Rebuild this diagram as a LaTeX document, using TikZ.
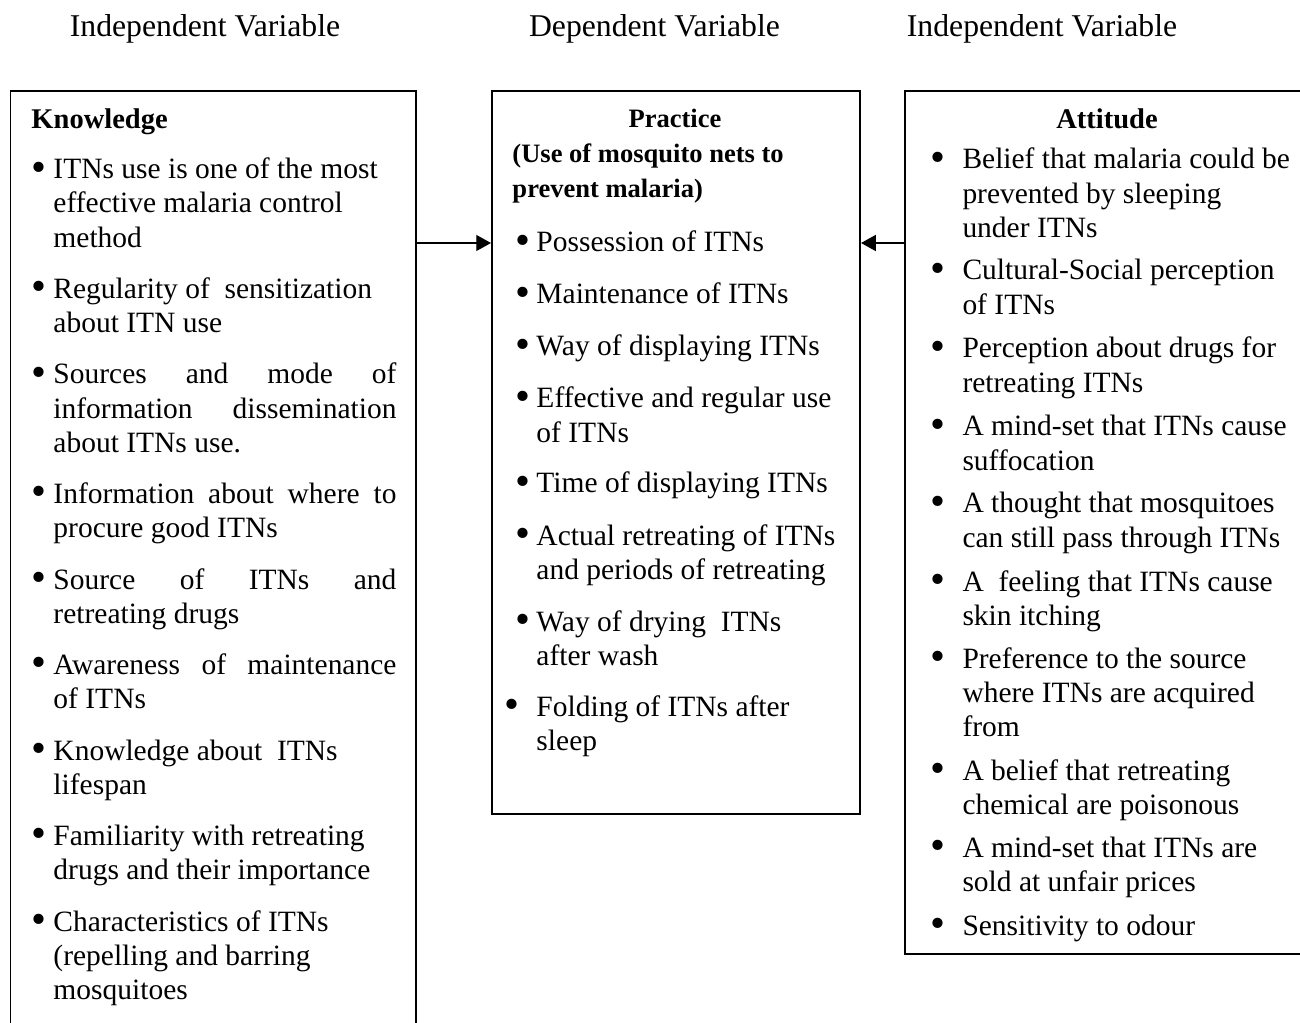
\documentclass[tikz,border=0pt]{standalone}
\usepackage{fontspec}
\setmainfont{Liberation Serif}
\usetikzlibrary{arrows.meta}
\newcommand{\jline}[1]{\leavevmode\hbox to \hsize{#1}}
\newcommand{\bul}[1]{\leavevmode\llap{\makebox[0pt]{\raisebox{-0.9pt}{\scalebox{1.45}{\textbullet}}}\hspace{#1}}}
\tikzset{
  box/.style={draw, line width=0.8pt, inner sep=0pt, anchor=north west},
  head/.style={anchor=base, inner sep=0pt, font=\fontsize{12.9}{15}\selectfont},
  title/.style={anchor=base, inner sep=0pt, font=\fontsize{11.6}{13.84}\selectfont\bfseries},
  item/.style={anchor=base west, inner sep=0pt, align=flush left, text width=#1, font=\fontsize{12}{13.84}\selectfont},
  item/.default=150pt,
  conn/.style={line width=0.55pt, -{Triangle[length=6pt,width=6.5pt]}}
}

\begin{document}
\begin{tikzpicture}[x=0.407pt,y=0.407pt,yscale=-1,xscale=1]
\clip (0,0) rectangle (1300,1023);

% Header Node
\draw (205,37) node (hdleft) [head] {Independent Variable};
% Header Node
\draw (654.5,37) node (hdmid) [head] {Dependent Variable};
% Header Node
\draw (1042,37) node (hdright) [head] {Independent Variable};

% Box Node
\draw (9.5,90.5) node (know) [box, minimum width=165.2pt, minimum height=392pt] {};
% Box Node
\draw (491,90.5) node (prac) [box, minimum width=149.8pt, minimum height=294.1pt] {};
% Box Node
\draw (904,90.5) node (att) [box, minimum width=168pt, minimum height=351.2pt] {};

% Text Node
\draw (31,129) node (knowtitle) [title, anchor=base west] {Knowledge};
% Text Node
\draw (53,179) node (know1) [item=139.6pt] {\bul{6.1pt}ITNs use is one of the most\\effective malaria control\\method};
% Text Node
\draw (53,298.5) node (know2) [item=139.6pt] {\bul{6.1pt}Regularity of \ sensitization\\about ITN use};
% Text Node
\draw (53,384) node (know3) [item=139.6pt] {\bul{6.1pt}\jline{Sources\hfill and\hfill mode\hfill of}\\\jline{information\hfill dissemination}\\about ITNs use.};
% Text Node
\draw (53,503.5) node (know4) [item=139.6pt] {\bul{6.1pt}\jline{Information\hfill about\hfill where\hfill to}\\procure good ITNs};
% Text Node
\draw (53,589) node (know5) [item=139.6pt] {\bul{6.1pt}\jline{Source\hfill of\hfill ITNs\hfill and}\\retreating drugs};
% Text Node
\draw (53,674.5) node (know6) [item=139.6pt] {\bul{6.1pt}\jline{Awareness\hfill of\hfill maintenance}\\of ITNs};
% Text Node
\draw (53,760) node (know7) [item=139.6pt] {\bul{6.1pt}Knowledge about \ ITNs\\lifespan};
% Text Node
\draw (53,845.5) node (know8) [item=139.6pt] {\bul{6.1pt}Familiarity with retreating\\drugs and their importance};
% Text Node
\draw (53,931) node (know9) [item=139.6pt] {\bul{6.1pt}Characteristics of ITNs\\(repelling and barring\\mosquitoes};

% Text Node
\draw (675,128) node (practitle) [title, font=\fontsize{10.8}{13.84}\selectfont\bfseries] {Practice};
% Text Node
\draw (512,163) node (pracsub) [item, font=\fontsize{10.8}{13.84}\selectfont\bfseries] {(Use of mosquito nets to\\prevent malaria)};
% Text Node
\draw (536,252) node (prac1) [item] {\bul{5.3pt}Possession of ITNs};
% Text Node
\draw (536,304) node (prac2) [item] {\bul{5.3pt}Maintenance of ITNs};
% Text Node
\draw (536,356) node (prac3) [item] {\bul{5.3pt}Way of displaying ITNs};
% Text Node
\draw (536,408) node (prac4) [item] {\bul{5.3pt}Effective and regular use\\of ITNs};
% Text Node
\draw (536,493) node (prac5) [item] {\bul{5.3pt}Time of displaying ITNs};
% Text Node
\draw (536,545) node (prac6) [item] {\bul{5.3pt}Actual retreating of ITNs\\and periods of retreating};
% Text Node
\draw (536,631) node (prac7) [item] {\bul{5.3pt}Way of drying \ ITNs\\after wash};
% Text Node
\draw (536,716) node (prac8) [item] {\bul{9.8pt}Folding of ITNs after\\sleep};

% Text Node
\draw (1107,129) node (atttitle) [title] {Attitude};
% Text Node
\draw (962,169) node (att1) [item] {\bul{9.8pt}Belief that malaria could be\\prevented by sleeping\\under ITNs};
% Text Node
\draw (962,280) node (att2) [item] {\bul{9.8pt}Cultural-Social perception\\of ITNs};
% Text Node
\draw (962,358) node (att3) [item] {\bul{9.8pt}Perception about drugs for\\retreating ITNs};
% Text Node
\draw (962,436) node (att4) [item] {\bul{9.8pt}A mind-set that ITNs cause\\suffocation};
% Text Node
\draw (962,513) node (att5) [item] {\bul{9.8pt}A thought that mosquitoes\\can still pass through ITNs};
% Text Node
\draw (962,591) node (att6) [item] {\bul{9.8pt}A \ feeling that ITNs cause\\skin itching};
% Text Node
\draw (962,668) node (att7) [item] {\bul{9.8pt}Preference to the source\\where ITNs are acquired\\from};
% Text Node
\draw (962,780) node (att8) [item] {\bul{9.8pt}A belief that retreating\\chemical are poisonous};
% Text Node
\draw (962,857) node (att9) [item] {\bul{9.8pt}A mind-set that ITNs are\\sold at unfair prices};
% Text Node
\draw (962,935) node (att10) [item] {\bul{9.8pt}Sensitivity to odour};

% Connection
\coordinate (lvl) at (0,243);
% Connection
\draw [conn] (know.east |- lvl) -- (prac.west |- lvl);
% Connection
\draw [conn] (att.west |- lvl) -- (prac.east |- lvl);

\end{tikzpicture}
\end{document}
